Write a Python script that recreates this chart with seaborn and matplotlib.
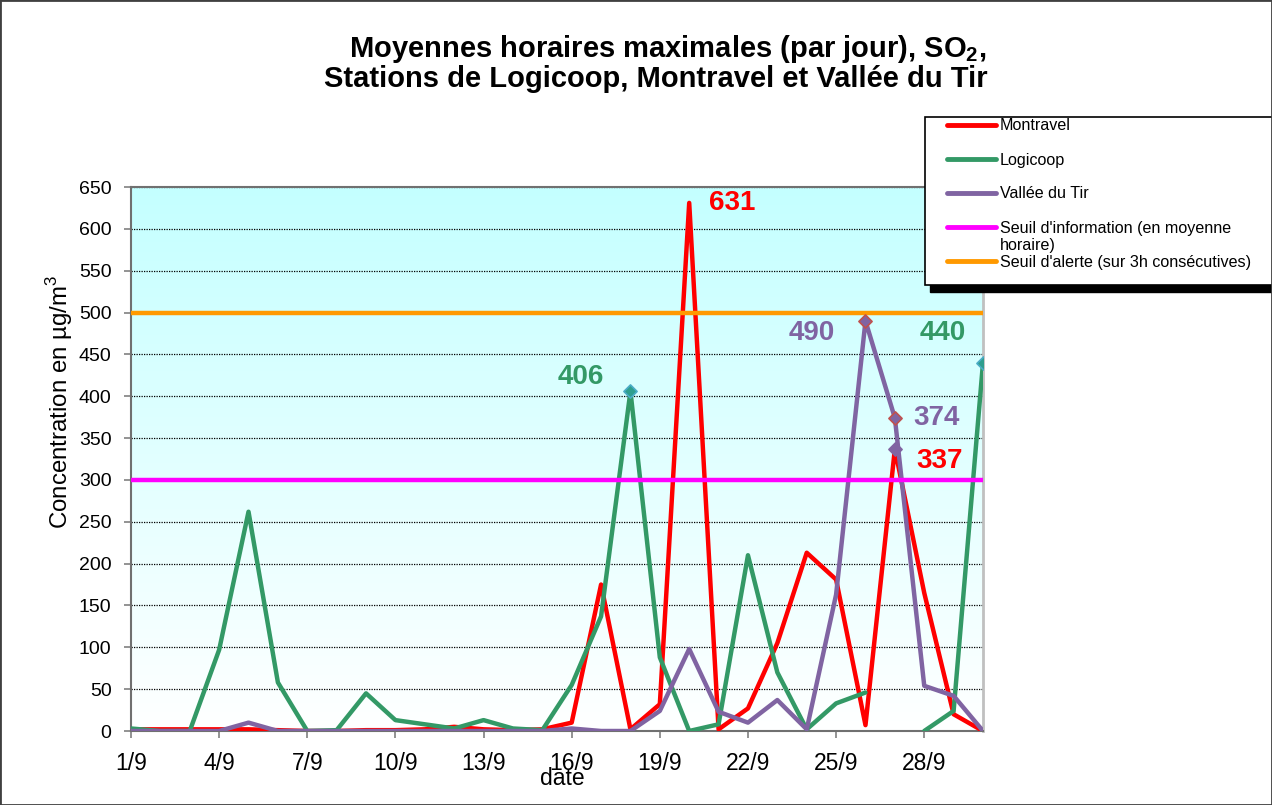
import numpy as np
import pandas as pd
import matplotlib.pyplot as plt
import seaborn as sns
from matplotlib.colors import LinearSegmentedColormap
from matplotlib.lines import Line2D
from matplotlib.patches import Rectangle

# ------------------------------------------------------------
# Données : maxima horaires journaliers de SO2 (septembre)
# ------------------------------------------------------------
jours = list(range(1, 31))
jours_ticks = list(range(1, 31, 3))
etiquettes_x = [f"{j}/9" for j in jours_ticks]

montravel = [2, 2, 2, 2, 2, 1, 0, 0, 1, 1, 2, 5, 2, 1, 2,
             10, 175, 2, 32, 631, 2, 27, 105, 213, 181, 7, 337, 165, 20, 0]
logicoop = [3, 0, 0, 97, 262, 58, 0, 1, 45, 13, 8, 3, 13, 3, 1,
            55, 137, 406, 88, 0, 8, 210, 70, 2, 33, 46, np.nan, 0, 24, 440]
vallee = [0, 0, 0, 0, 10, 0, 0, 0, 0, 0, 0, 0, 0, 0, 0,
          3, 0, 0, 24, 98, 23, 10, 37, 2, 163, 490, 374, 54, 42, 0]

seuil_info = 300
seuil_alerte = 500

stations = ["Montravel", "Logicoop", "Vallée du Tir"]
couleurs = {"Montravel": "#ff0000", "Logicoop": "#339966", "Vallée du Tir": "#8064a2"}
c_info = "#ff00ff"
c_alerte = "#ff9900"

# valeurs annotées : (station, jour, décalage du texte en pixels)
etiquettes = [
    ("Montravel", 20, (43, 0)),
    ("Logicoop", 18, (-50, 14)),
    ("Vallée du Tir", 26, (-54, -12)),
    ("Logicoop", 30, (-40, 30)),
    ("Vallée du Tir", 27, (42, 0)),
    ("Montravel", 27, (45, -12)),
]

# ------------------------------------------------------------
# Figure
# ------------------------------------------------------------
plt.rcParams["font.family"] = ["Liberation Sans", "DejaVu Sans"]
plt.rcParams["mathtext.fontset"] = "custom"
plt.rcParams["mathtext.rm"] = "Liberation Sans"
plt.rcParams["mathtext.bf"] = "Liberation Sans:bold"

W, H = 1272, 805
fig = plt.figure(figsize=(W / 100, H / 100), dpi=100)
ax = fig.add_axes([131 / W, 1 - 731 / H, (983 - 131) / W, (731 - 187) / H])

# fond dégradé de la zone de tracé
fond = LinearSegmentedColormap.from_list("fond", ["#ffffff", "#c4ffff"])
grad = np.linspace(0, 1, 256).reshape(-1, 1)
ax.imshow(grad, extent=[1, 30, 0, 650], origin="lower", aspect="auto",
          cmap=fond, zorder=0)

df = pd.DataFrame({"jour": jours, "Montravel": montravel,
                   "Logicoop": logicoop, "Vallée du Tir": vallee})
long = df.melt(id_vars="jour", var_name="station", value_name="conc")
# découpe en segments là où il manque une valeur (trou dans Logicoop)
long["segment"] = long.groupby("station")["conc"].transform(lambda s: s.isna().cumsum())
long = long.dropna()

sns.lineplot(data=long, x="jour", y="conc", hue="station", hue_order=stations,
             units="segment", estimator=None, palette=couleurs,
             linewidth=3.2, legend=False, ax=ax, zorder=3,
             solid_joinstyle="round", solid_capstyle="round")

ax.axhline(seuil_info, color=c_info, lw=3.2, zorder=4)
ax.axhline(seuil_alerte, color=c_alerte, lw=3.2, zorder=4)

# marqueurs sur les pics
series = {"Montravel": montravel, "Logicoop": logicoop, "Vallée du Tir": vallee}
sns.scatterplot(x=[18, 30], y=[logicoop[17], logicoop[29]], marker="D", s=45,
                color="#2e9e8e", edgecolor="#4bacc6", linewidth=1.2, ax=ax, zorder=5)
sns.scatterplot(x=[26, 27], y=[vallee[25], vallee[26]], marker="D", s=45,
                color="#8064a2", edgecolor="#c0504d", linewidth=1.2, ax=ax, zorder=5)
sns.scatterplot(x=[27], y=[montravel[26]], marker="D", s=45,
                color="#8064a2", edgecolor="#8064a2", linewidth=1.2, ax=ax, zorder=5)

for station, jour, decal in etiquettes:
    val = series[station][jour - 1]
    ax.annotate(f"{val:.0f}", xy=(jour, val), xytext=decal, textcoords="offset pixels",
                ha="center", va="center", fontsize=20, fontweight="bold",
                color=couleurs[station], zorder=6)

# axes
ax.set_xlim(1, 30)
ax.set_ylim(0, 650)
ax.set_xticks(jours_ticks)
ax.set_xticklabels(etiquettes_x)
ax.set_yticks(range(0, 651, 50))
ax.yaxis.grid(True, linestyle=(0, (1, 1)), color="black", lw=0.9, zorder=1)
ax.tick_params(axis="x", labelsize=16.5, length=5, width=1.2, color="#808080", pad=10)
ax.tick_params(axis="y", labelsize=14, length=5, width=1.2, color="#808080", pad=9)
for cote in ["left", "bottom", "top"]:
    ax.spines[cote].set_color("#707070")
    ax.spines[cote].set_linewidth(1.5)
ax.spines["right"].set_color("#c0c0c0")
ax.spines["right"].set_linewidth(2)

ax.set_xlabel("date", fontsize=16.5, va="center")
ax.xaxis.set_label_coords((562 - 131) / 852, (731 - 778) / 544)
ax.set_ylabel("Concentration en µg/m$^3$", fontsize=17.3, va="center")
ax.yaxis.set_label_coords((60 - 131) / 852, (731 - 402) / 544)

# titre sur deux lignes
fig.text(668 / W, 1 - 57 / H, "Moyennes horaires maximales (par jour), SO$_\\mathbf{2}$,",
         ha="center", va="baseline", fontsize=21, fontweight="bold")
fig.text(656 / W, 1 - 87 / H, "Stations de Logicoop, Montravel et Vallée du Tir",
         ha="center", va="baseline", fontsize=21, fontweight="bold")


# légende (cadre avec ombre, comme le graphique d'origine)
def fx(x):
    return x / W


def fy(y):
    return 1 - y / H


fig.add_artist(Rectangle((fx(930), fy(292)), fx(360), (292 - 122) / H,
                         transform=fig.transFigure, facecolor="black", edgecolor="black"))
fig.add_artist(Rectangle((fx(925), fy(285)), fx(360), (285 - 117) / H,
                         transform=fig.transFigure, facecolor="white",
                         edgecolor="black", lw=1.2))

entrees = [
    (["Montravel"], couleurs["Montravel"], 125),
    (["Logicoop"], couleurs["Logicoop"], 159),
    (["Vallée du Tir"], couleurs["Vallée du Tir"], 193),
    (["Seuil d'information (en moyenne", "horaire)"], c_info, 227),
    (["Seuil d'alerte (sur 3h consécutives)"], c_alerte, 261),
]
for lignes, coul, y in entrees:
    fig.add_artist(Line2D([fx(947), fx(996)], [fy(y), fy(y)], transform=fig.transFigure,
                          color=coul, lw=3.5, solid_capstyle="round"))
    for i, ligne in enumerate(lignes):
        fig.text(fx(1000), fy(y + 5.5 + 17.5 * i), ligne, ha="left", va="baseline",
                 fontsize=11.6)

fig.add_artist(Rectangle((0, 0), 1, 1, transform=fig.transFigure, fill=False,
                         edgecolor="#404040", lw=2))

fig.savefig("out.png", dpi=100)
